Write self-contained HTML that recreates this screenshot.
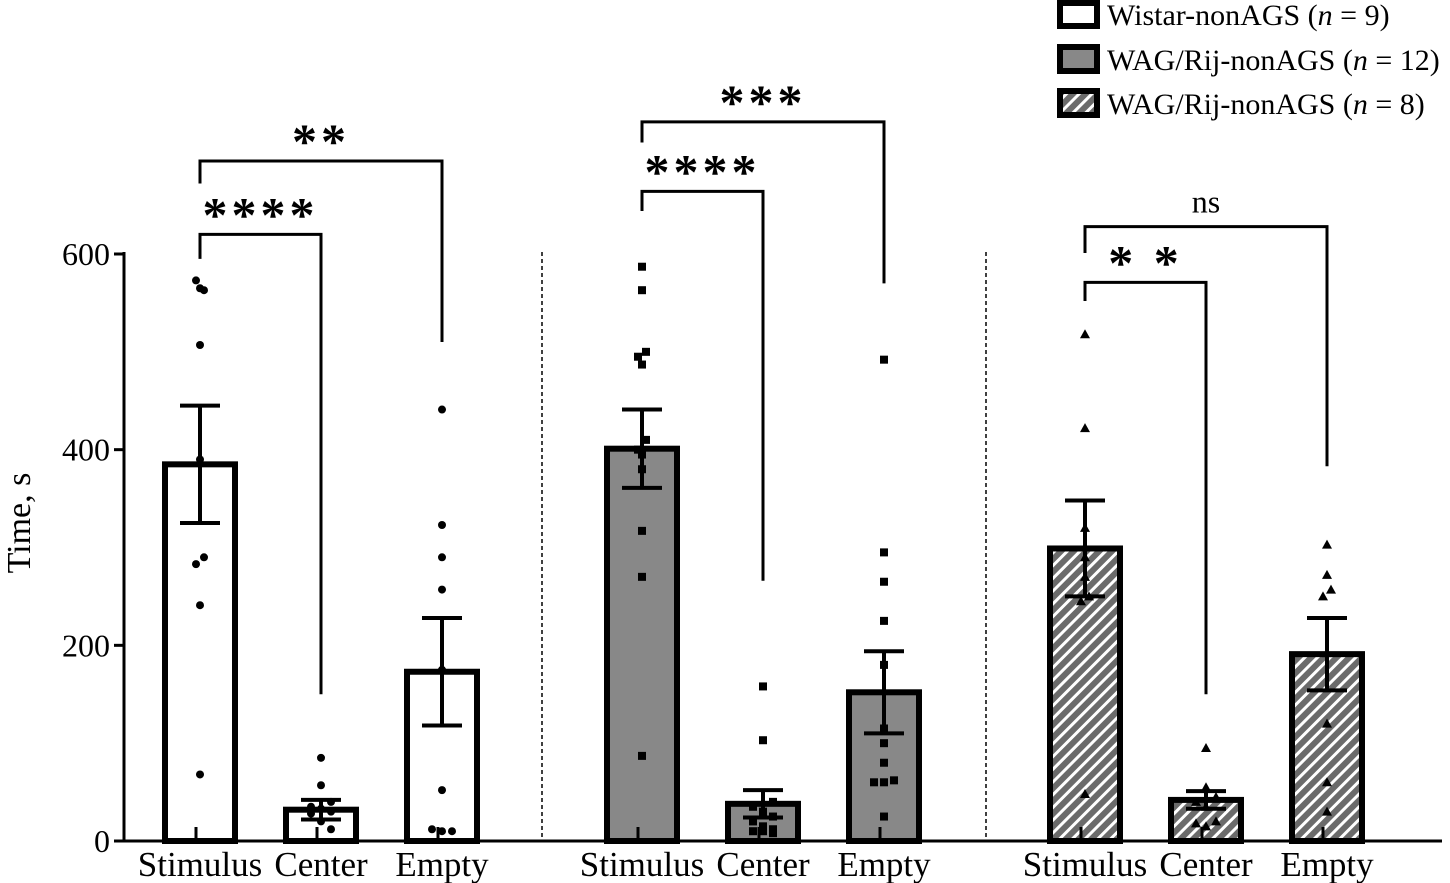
<!DOCTYPE html>
<html><head><meta charset="utf-8">
<style>
body{margin:0;background:#fff;}
svg{display:block;font-family:"Liberation Serif",serif;}
</style></head>
<body>
<svg id="chart" width="1450" height="883" viewBox="0 0 1450 883" xmlns="http://www.w3.org/2000/svg">
<defs>
<pattern id="hatch" patternUnits="userSpaceOnUse" width="9" height="9" patternTransform="rotate(45)">
<rect width="9" height="9" fill="#6b6b6b"/>
<rect x="0" y="0" width="3" height="9" fill="#fff"/>
</pattern>
</defs>
<g id="plot"></g>
<g>
<rect x="1060" y="3" width="37" height="23" fill="#fff" stroke="#000" stroke-width="6"/>
<text x="1107" y="25" font-size="30">Wistar-nonAGS (<tspan font-style="italic">n</tspan> = 9)</text>
<rect x="1060" y="47" width="37" height="24" fill="#888" stroke="#000" stroke-width="6"/>
<text x="1107" y="70" font-size="30">WAG/Rij-nonAGS (<tspan font-style="italic">n</tspan> = 12)</text>
<rect x="1060" y="91" width="37" height="24" fill="url(#hatch)" stroke="#000" stroke-width="6"/>
<text x="1107" y="114" font-size="30">WAG/Rij-nonAGS (<tspan font-style="italic">n</tspan> = 8)</text>
</g>
</svg>
<script>
const categories = ["Stimulus","Center","Empty"];
const groupNames = ["Wistar-nonAGS","WAG/Rij-nonAGS","WAG/Rij-nonAGS-8"];
const means = [[385,32,173],[401,38,152],[299,42,191]];
const sems = [[60,10,55],[40,14,42],[49,9,37]];
const points = [
 [[573,565,563,507,390,290,283,241,68],[85,57,40,35,33,30,28,20,12],[441,323,290,257,175,52,12,10,10]],
 [[587,563,500,495,487,410,400,395,380,317,270,87],[158,103,40,35,30,25,20,15,12,10,10,8],[492,295,265,225,180,115,100,80,62,60,60,25]],
 [[518,422,320,290,270,250,245,48],[95,55,45,40,35,20,18,15],[303,272,257,250,192,120,60,30]]
];
const yTicks = [0,200,400,600];
const brackets = [ // [group, fromCat, toCat, yValueTop, leftDrop, rightDrop, label]
 [0,0,1,620,595,150,"****"],[0,0,2,695,672,510,"**"],
 [1,0,1,664,644,266,"****"],[1,0,2,735,714,570,"***"],
 [2,0,1,571,552,150,"* *"],[2,0,2,628,601,383,"ns"]
];
const fills = ["#fff","#888","url(#hatch)"];
const markers = ["circle","square","triangle"];
const NS="http://www.w3.org/2000/svg";
const g=document.getElementById('plot');
const y0=841, k=587/600;
const Y=v=>y0-v*k;
const groupX=[200,642,1085], catStep=121, barW=70;
const X=(gi,ci)=>groupX[gi]+ci*catStep;
function el(t,a,p){const e=document.createElementNS(NS,t);for(const q in a)e.setAttribute(q,a[q]);(p||g).appendChild(e);return e;}
let e=el('line',{x1:124,y1:Y(0),x2:1442,y2:Y(0),stroke:'#000','stroke-width':3});


e=el('line',{x1:124,y1:Y(600)-2,x2:124,y2:Y(0)+1,stroke:'#000','stroke-width':3});


yTicks.forEach(t=>{
 el('line',{x1:114,y1:Y(t),x2:124,y2:Y(t),stroke:'#000','stroke-width':3});
 e=el('text',{x:110,y:Y(t)+11,'font-size':32,'text-anchor':'end'});e.textContent=t;
 
 
});
e=el('text',{x:30,y:Y(325),'font-size':34,'text-anchor':'middle',transform:`rotate(-90 30 ${Y(325)})`});
e.textContent="Time, s";


[542,986].forEach(x=>{e=el('line',{x1:x,y1:252,x2:x,y2:Y(0),stroke:'#000','stroke-width':1.5,'stroke-dasharray':'4,3'});
 
 });
means.forEach((gm,gi)=>gm.forEach((m,ci)=>{
 const cx=X(gi,ci);
 const b=el('rect',{x:cx-barW/2,y:Y(m),width:barW,height:Y(0)-Y(m),fill:fills[gi],stroke:'#000','stroke-width':6});
 
 
 el('line',{x1:cx-4,y1:Y(0),x2:cx-4,y2:Y(0)-14,stroke:'#000','stroke-width':3});
 points[gi][ci].forEach((v,i)=>{
  const px=cx+((i%3)-1)*(v<100?10:4)*(points[gi][ci].filter(w=>Math.abs(w-v)<15).length>1?1:0), py=Y(v);
  let p;
  if(markers[gi]=='circle')p=el('circle',{cx:px,cy:py,r:4,fill:'#000'});
  else if(markers[gi]=='square')p=el('rect',{x:px-4,y:py-4,width:8,height:8,fill:'#000'});
  else p=el('polygon',{points:`${px},${py-5} ${px-5},${py+4} ${px+5},${py+4}`,fill:'#000'});
  
  
 });
 const s=sems[gi][ci];
 const eb=el('path',{d:`M${cx},${Y(m-s)}V${Y(m+s)}M${cx-20},${Y(m+s)}H${cx+20}M${cx-20},${Y(m-s)}H${cx+20}`,stroke:'#000','stroke-width':4,fill:'none'});
 
 
 const t=el('text',{x:cx,y:876,'font-size':35,'text-anchor':'middle'});t.textContent=categories[ci];
 
 
}));
brackets.forEach(([gi,a,b,top,ld,rd,lab])=>{
 const x1=X(gi,a),x2=X(gi,b);
 const p=el('path',{d:`M${x1},${Y(ld)}V${Y(top)}H${x2}V${Y(rd)}`,stroke:'#000','stroke-width':3,fill:'none'});
 
 
 const t=el('text',{x:(x1+x2)/2,y:Y(top)-(lab=='ns'?14:3),'font-size':lab=='ns'?32:50,'text-anchor':'middle','letter-spacing':lab=='ns'?0:4,'font-weight':lab=='ns'?'normal':'bold'});
 t.textContent=lab;
 
 
});
</script>
</body></html>
